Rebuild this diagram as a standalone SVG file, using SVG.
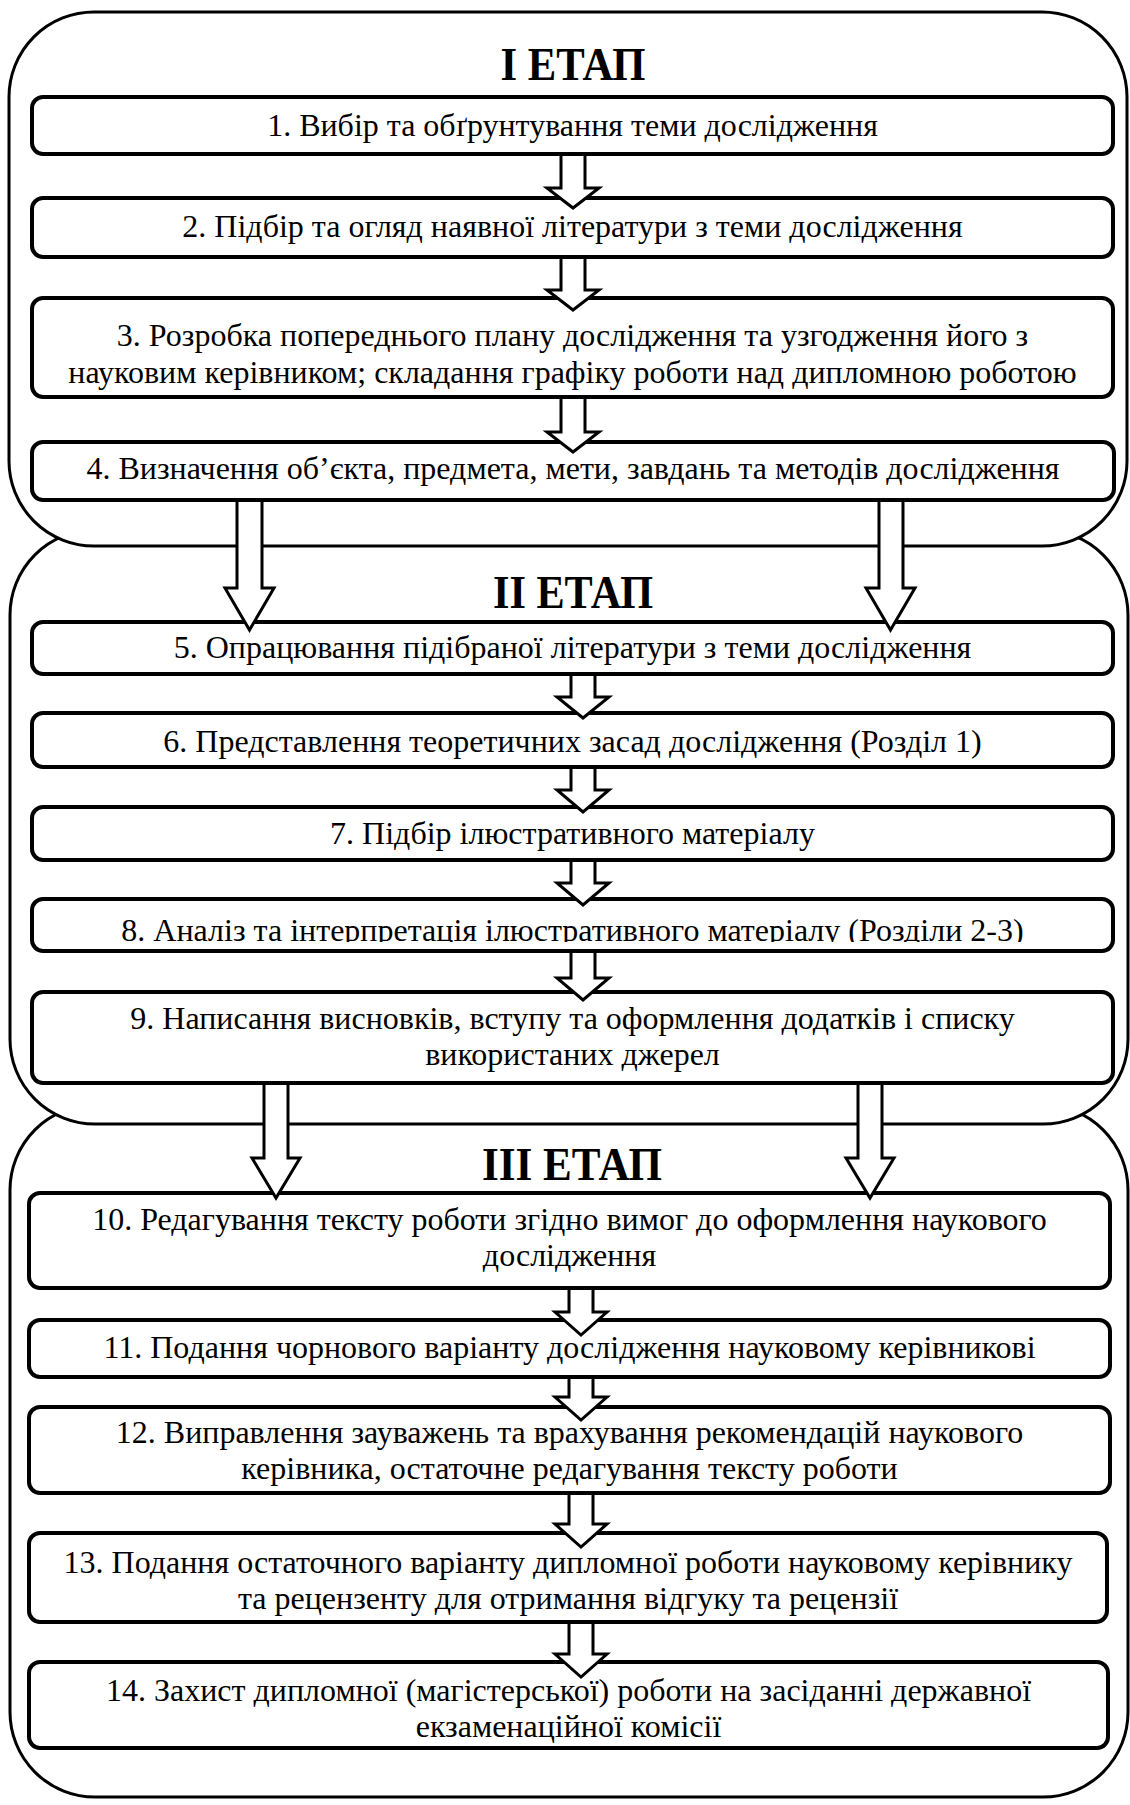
<svg xmlns="http://www.w3.org/2000/svg" width="1130" height="1805" viewBox="0 0 1130 1805">
<defs>
<style>
.stage{fill:#fff;stroke:#000;stroke-width:3}
.box{fill:#fff;stroke:#000;stroke-width:4}
.t{font-family:"Liberation Serif","Times New Roman",serif;font-size:32px;fill:#000;text-anchor:middle}
.title{font-family:"Liberation Serif","Times New Roman",serif;font-size:46px;font-weight:bold;fill:#000;text-anchor:middle}
.arr{fill:#fff;stroke:#000;stroke-width:3;stroke-linejoin:miter}
</style>
<clipPath id="clip8"><rect x="32" y="899" width="1081" height="43"/></clipPath>
</defs>
<rect width="1130" height="1805" fill="#fff"/>
<g id="stage3"><rect class="stage" x="10" y="1105" width="1118" height="692" rx="85" ry="85"/><text class="title" x="572" y="1180" textLength="180" lengthAdjust="spacingAndGlyphs">III ЕТАП</text></g>
<g id="stage2"><rect class="stage" x="10" y="530" width="1118" height="594" rx="85" ry="85"/></g>
<g id="stage1"><rect class="stage" x="9" y="12" width="1118" height="534" rx="85" ry="85"/><text class="title" x="573" y="80" textLength="145" lengthAdjust="spacingAndGlyphs">I ЕТАП</text></g>
<g id="stage2-title"><text class="title" x="573" y="608" textLength="160" lengthAdjust="spacingAndGlyphs">II ЕТАП</text></g>

<g id="n1"><rect class="box" x="32" y="97" width="1081" height="57" rx="11"/><text class="t" x="572.5" y="136">1. Вибір та обґрунтування теми дослідження</text></g>
<g id="n2"><rect class="box" x="32" y="198" width="1081" height="59" rx="11"/><text class="t" x="572.5" y="237">2. Підбір та огляд наявної літератури з теми дослідження</text></g>
<g id="n3"><rect class="box" x="32" y="298" width="1081" height="99" rx="11"/><text class="t" x="572.5" y="346">3. Розробка попереднього плану дослідження та узгодження його з</text><text class="t" x="572.5" y="383">науковим керівником; складання графіку роботи над дипломною роботою</text></g>
<g id="n4"><rect class="box" x="32" y="442" width="1082" height="58" rx="11"/><text class="t" x="573" y="479">4. Визначення об’єкта, предмета, мети, завдань та методів дослідження</text></g>
<g id="n5"><rect class="box" x="32" y="622" width="1081" height="52" rx="11"/><text class="t" x="572.5" y="658">5. Опрацювання підібраної літератури з теми дослідження</text></g>
<g id="n6"><rect class="box" x="32" y="713" width="1081" height="54" rx="11"/><text class="t" x="572.5" y="752">6. Представлення теоретичних засад дослідження (Розділ 1)</text></g>
<g id="n7"><rect class="box" x="32" y="807" width="1081" height="53" rx="11"/><text class="t" x="572.5" y="844">7. Підбір ілюстративного матеріалу</text></g>
<g id="n8"><rect class="box" x="32" y="899" width="1081" height="52" rx="11"/><text class="t" x="572.5" y="941" clip-path="url(#clip8)">8. Аналіз та інтерпретація ілюстративного матеріалу (Розділи 2-3)</text></g>
<g id="n9"><rect class="box" x="32" y="992" width="1081" height="91" rx="11"/><text class="t" x="572.5" y="1029">9. Написання висновків, вступу та оформлення додатків і списку</text><text class="t" x="572.5" y="1065">використаних джерел</text></g>
<g id="n10"><rect class="box" x="29" y="1193" width="1081" height="95" rx="11"/><text class="t" x="569.5" y="1230">10. Редагування тексту роботи згідно вимог до оформлення наукового</text><text class="t" x="569.5" y="1266">дослідження</text></g>
<g id="n11"><rect class="box" x="29" y="1320" width="1081" height="57" rx="11"/><text class="t" x="569.5" y="1358">11. Подання чорнового варіанту дослідження науковому керівникові</text></g>
<g id="n12"><rect class="box" x="29" y="1407" width="1081" height="86" rx="11"/><text class="t" x="569.5" y="1443">12. Виправлення зауважень та врахування рекомендацій наукового</text><text class="t" x="569.5" y="1479">керівника, остаточне редагування тексту роботи</text></g>
<g id="n13"><rect class="box" x="29" y="1533" width="1078" height="89" rx="11"/><text class="t" x="568" y="1573">13. Подання остаточного варіанту дипломної роботи науковому керівнику</text><text class="t" x="568" y="1609">та рецензенту для отримання відгуку та рецензії</text></g>
<g id="n14"><rect class="box" x="29" y="1662" width="1079" height="86" rx="11"/><text class="t" x="568.5" y="1701">14. Захист дипломної (магістерської) роботи на засіданні державної</text><text class="t" x="568.5" y="1737">екзаменаційної комісії</text></g>

<g id="connectors">
<path class="arr" d="M561,156 V188 H547 L573,208 L599,188 H585 V156"/>
<path class="arr" d="M561,259 V290 H547 L573,310 L599,290 H585 V259"/>
<path class="arr" d="M561,399 V432 H547 L573,452 L599,432 H585 V399"/>
<path class="arr" d="M237,502 V588 H225 L249.5,630 L274,588 H262 V502"/>
<path class="arr" d="M879,502 V588 H866 L890.5,630 L915,588 H903 V502"/>
<path class="arr" d="M571,676 V697 H557 L583,718 L609,697 H595 V676"/>
<path class="arr" d="M571,769 V790 H557 L583,812 L609,790 H595 V769"/>
<path class="arr" d="M571,862 V883 H557 L583,905 L609,883 H595 V862"/>
<path class="arr" d="M571,953 V978 H557 L583,1000 L609,978 H595 V953"/>
<path class="arr" d="M264,1085 V1158 H252 L276,1198 L300,1158 H288 V1085"/>
<path class="arr" d="M858,1085 V1158 H846 L870,1198 L894,1158 H882 V1085"/>
<path class="arr" d="M569,1290 V1312 H555 L581,1335 L607,1312 H593 V1290"/>
<path class="arr" d="M569,1379 V1397 H555 L581,1420 L607,1397 H593 V1379"/>
<path class="arr" d="M569,1495 V1524 H555 L581,1547 L607,1524 H593 V1495"/>
<path class="arr" d="M569,1624 V1654 H555 L581,1677 L607,1654 H593 V1624"/>
</g>
</svg>
